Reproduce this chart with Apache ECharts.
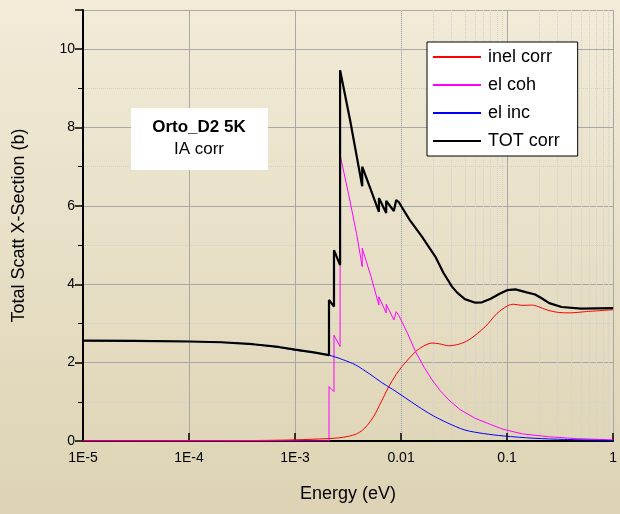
<!DOCTYPE html>
<html><head><meta charset="utf-8">
<script src="https://cdn.jsdelivr.net/npm/echarts@6/dist/echarts.min.js"></script>
<style>html,body{margin:0;padding:0}#c{width:620px;height:514px}</style>
</head><body><div id="c"></div>
<script>
const xTickLabels = ['1E-5','1E-4','1E-3','0.01','0.1','1'];
const inelCorr = [[1e-5,0],[1e-4,0.005],[5e-4,0.015],[1e-3,0.03],[2e-3,0.06],[2.6e-3,0.08],[3.2e-3,0.12],[3.8e-3,0.18],[4.3e-3,0.27],[4.8e-3,0.4],[5.5e-3,0.62],[6.5e-3,1.0],[7.67e-3,1.39],[0.009,1.7],[0.0102,1.9],[0.0137,2.28],[0.0165,2.43],[0.0196,2.5],[0.023,2.48],[0.0282,2.43],[0.035,2.47],[0.0436,2.58],[0.0623,2.92],[0.08,3.25],[0.101,3.45],[0.115,3.49],[0.14,3.46],[0.17,3.47],[0.1965,3.43],[0.24,3.34],[0.306,3.28],[0.4,3.27],[0.54,3.3],[1,3.35]];
const elCoh = [[1e-5,0],[2.09e-3,0],[2.09e-3,1.39],[2.33e-3,1.26],[2.33e-3,2.7],[2.66e-3,2.41],[2.66e-3,7.3],[3.2e-3,6.3],[3.8e-3,5.3],[4.3e-3,4.45],[4.3e-3,4.92],[5.2e-3,4.2],[6.18e-3,3.47],[6.18e-3,3.68],[7.24e-3,3.27],[7.24e-3,3.49],[8.55e-3,3.09],[9e-3,3.3],[9.5e-3,3.21],[0.0115,2.75],[0.0137,2.28],[0.0165,1.88],[0.0196,1.56],[0.0235,1.28],[0.0282,1.05],[0.036,0.8],[0.05,0.58],[0.07,0.42],[0.0916,0.3],[0.14,0.18],[0.246,0.11],[0.45,0.06],[1,0.03]];
const elInc = [[1e-5,2.56],[3e-5,2.555],[1e-4,2.54],[2e-4,2.52],[4e-4,2.47],[7e-4,2.39],[1e-3,2.32],[1.5e-3,2.26],[2.09e-3,2.19],[2.8e-3,2.08],[3.73e-3,1.94],[5e-3,1.72],[6.5e-3,1.5],[8.3e-3,1.32],[0.011,1.1],[0.0145,0.88],[0.0196,0.66],[0.027,0.47],[0.04,0.28],[0.06,0.19],[0.0916,0.13],[0.18,0.07],[0.35,0.04],[1,0.01]];
const totCorr = [[1e-5,2.56],[3e-5,2.555],[1e-4,2.54],[2e-4,2.52],[4e-4,2.47],[7e-4,2.4],[1e-3,2.33],[1.5e-3,2.26],[2.09e-3,2.19],[2.09e-3,3.6],[2.33e-3,3.43],[2.33e-3,4.87],[2.66e-3,4.49],[2.66e-3,9.46],[3.3e-3,8.2],[4.3e-3,6.5],[4.3e-3,7.0],[5.2e-3,6.4],[6.18e-3,5.85],[6.18e-3,6.2],[7.24e-3,5.82],[7.24e-3,6.13],[8.55e-3,5.87],[9e-3,6.15],[9.5e-3,6.1],[0.012,5.65],[0.0158,5.21],[0.0211,4.7],[0.025,4.3],[0.0302,3.94],[0.034,3.78],[0.04,3.62],[0.0501,3.53],[0.058,3.54],[0.07,3.63],[0.085,3.76],[0.1,3.85],[0.12,3.87],[0.15,3.8],[0.184,3.74],[0.21,3.65],[0.25,3.52],[0.327,3.42],[0.5,3.38],[1,3.39]];
const minorX = [];
[1e-5,1e-4,1e-3,1e-2,1e-1].forEach(d=>{for(let k=2;k<=9;k++)minorX.push({xAxis:d*k});});
const font = 'Liberation Sans, Arial, sans-serif';
const chart = echarts.init(document.getElementById('c'));
chart.setOption({
  animation:false,
  backgroundColor:{type:'linear',x:0,y:0,x2:0,y2:1,colorStops:[{offset:0,color:'#f1ebd8'},{offset:1,color:'#ddd3b4'}]},
  grid:{left:83,right:5,top:10,bottom:73},
  xAxis:{type:'log',min:1e-5,max:1,logBase:10,name:'Energy (eV)',nameLocation:'middle',nameGap:44,
    nameTextStyle:{fontSize:18,color:'#000',fontFamily:font},
    axisLine:{lineStyle:{color:'#000',width:2}},axisTick:{inside:true,length:8,lineStyle:{color:'#000',width:1.5}},
    axisLabel:{fontSize:14,color:'#000',fontFamily:font,margin:10,formatter:v=>xTickLabels[Math.round(Math.log10(v))+5]},
    splitLine:{show:true,lineStyle:{color:'#a8a8a8',width:1}}},
  yAxis:{type:'value',min:0,max:11,interval:2,name:'Total Scatt X-Section (b)',nameLocation:'middle',nameGap:55,
    nameTextStyle:{fontSize:18,color:'#000',fontFamily:font},
    axisLine:{show:true,lineStyle:{color:'#000',width:2}},axisTick:{show:true,length:8,lineStyle:{color:'#000',width:1.5}},
    minorTick:{show:true,splitNumber:2,length:5,lineStyle:{color:'#000'}},
    minorSplitLine:{show:true,lineStyle:{color:'#d0d0d0',type:'dotted'}},
    axisLabel:{fontSize:14,color:'#000',fontFamily:font,formatter:v=>v>10?'':String(v)},
    splitLine:{show:true,lineStyle:{color:'#a8a8a8',width:1}}},
  legend:{orient:'vertical',left:427,top:42,backgroundColor:'#fff',borderColor:'#000',borderWidth:1,borderRadius:0,z:20,
    padding:[6,18,6,6],itemWidth:48,itemHeight:2,itemGap:10,icon:'rect',
    textStyle:{fontSize:18,color:'#000',fontFamily:font,padding:[0,0,0,2]},
    data:['inel corr','el coh','el inc','TOT corr']},
  graphic:[{type:'group',left:131,top:108,z:100,children:[
    {type:'rect',z:100,shape:{x:0,y:0,width:137,height:62},style:{fill:'#fff'}},
    {type:'text',z:101,x:68,y:11,style:{text:'Orto_D2 5K',fontSize:17,fontWeight:'bold',fontFamily:font,fill:'#000',align:'center'}},
    {type:'text',z:101,x:68,y:33,style:{text:'IA corr',fontSize:17,fontFamily:font,fill:'#000',align:'center'}}]}],
  series:[
    {name:'grid',type:'line',data:[],silent:true,z:0,markLine:{silent:true,z:0,symbol:'none',label:{show:false},lineStyle:{color:'#d0d0d0',type:'dotted',width:1},data:minorX}},
    {name:'inel corr',type:'line',data:inelCorr,showSymbol:false,smooth:0.3,color:'#ff0000',lineStyle:{width:1,color:'#ff0000'},z:3},
    {name:'el coh',type:'line',data:elCoh,showSymbol:false,color:'#ff00ff',lineStyle:{width:1,color:'#ff00ff'},z:3},
    {name:'el inc',type:'line',data:elInc,showSymbol:false,smooth:0.3,color:'#0000ff',lineStyle:{width:1,color:'#0000ff'},z:3},
    {name:'TOT corr',type:'line',data:totCorr,showSymbol:false,color:'#000',lineStyle:{width:2.2,color:'#000'},z:4}
  ]
});
</script></body></html>
